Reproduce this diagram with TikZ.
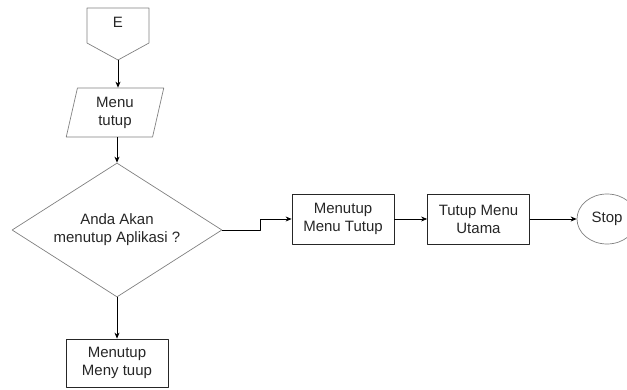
\documentclass[tikz,border=0pt]{standalone}
\usepackage{fontspec}
\setmainfont{Liberation Sans}
\usetikzlibrary{shapes.geometric,arrows.meta}
\tikzset{
  proses/.style={draw=black!85,line width=0.8pt,minimum width=102pt,minimum height=50pt,align=center,inner sep=2pt},
  putusan/.style={diamond,aspect=1.57,draw=black!50,line width=0.7pt,minimum width=210pt,minimum height=134pt,inner sep=0pt,align=center},
  masukan/.style={trapezium,trapezium left angle=80,trapezium right angle=100,trapezium stretches=true,draw=black!50,line width=0.7pt,minimum width=98pt,minimum height=49pt,align=center,inner sep=1pt},
  terminal/.style={ellipse,draw=black!50,line width=0.7pt,minimum width=60pt,minimum height=50pt,inner sep=0pt},
  panah/.style={-{Stealth[length=6pt,width=5pt]},line width=0.7pt}
}
\begin{document}
\begin{tikzpicture}[x=1pt,y=-1pt,font=\fontsize{15}{18}\selectfont,text=black!85,line join=round]
	\useasboundingbox (0,0) rectangle (627,390);
	\path
	(87,8) coordinate (E1)
	(149,8) coordinate (E2)
	(149,43) coordinate (E3)
	(118,60) coordinate (Eujung)
	(87,43) coordinate (E4)
	(260,219) coordinate (belok)
	;
	% konektor halaman
	\draw[black!50,line width=0.7pt] (E1)--(E2)--(E3)--(Eujung)--(E4)--cycle;
	\node (konektor) at (118,22) {E};
	\node[masukan] (menu) at (115,112.5) {Menu\\tutup};
	\node[putusan] (tanya) at (117,230) {Anda Akan\\menutup Aplikasi ?};
	\node[proses] (tutupmenu) at (343,219) {Menutup\\Menu Tutup};
	\node[proses] (utama) at (478.5,219) {Tutup Menu\\Utama};
	\node[terminal] (stop) at (607,219) {Stop};
	\node[proses,minimum height=48pt] (tutupapp) at (117,363) {Menutup\\Meny tuup};
	% alur
	\draw[panah] (Eujung)--(Eujung|-menu.north);
	\draw[panah] (menu.south-|tanya.north)--(tanya.north);
	\draw[panah] (tanya.south)--(tutupapp.north);
	\draw[panah] (tanya.east)-|(belok)--(tutupmenu.west);
	\draw[panah] (tutupmenu.east)--(utama.west);
	\draw[panah] (utama.east)--(stop.west);
\end{tikzpicture}
\end{document}
